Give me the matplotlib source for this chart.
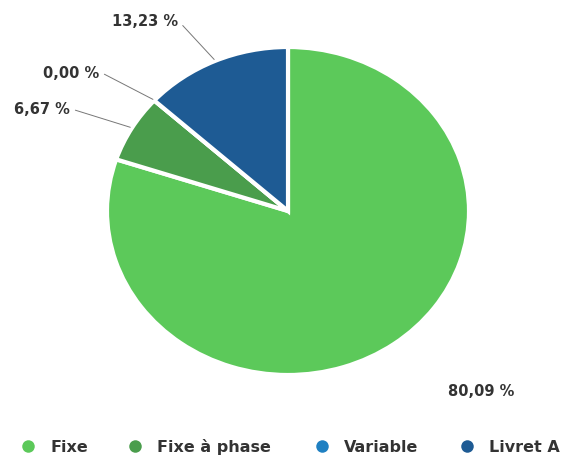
import numpy as np
import matplotlib
matplotlib.use("Agg")
import matplotlib.pyplot as plt

plt.rcParams["font.family"] = ["DejaVu Sans"]

# data
labels = ["Fixe", "Fixe à phase", "Variable", "Livret A"]
values = [80.09, 6.67, 0.00, 13.23]
colors = ["#5cc95a", "#4a9d4c", "#1f80c2", "#1e5b94"]

W, H = 565, 455
fig = plt.figure(figsize=(W / 100, H / 100), dpi=100)

# pie axes (slightly squashed, like the original)
cx, cy, rx, ry = 288, 211, 181, 164
ax = fig.add_axes([(cx - rx) / W, (H - cy - ry) / H, 2 * rx / W, 2 * ry / H])
wedges, _ = ax.pie(values, colors=colors, startangle=90, counterclock=False,
                   wedgeprops=dict(edgecolor="white", linewidth=3))
ax.set_aspect("auto")
ax.set_xlim(-1, 1)
ax.set_ylim(-1, 1)

# label positions (pixels from top-left), flag = draw connector
lab_pos = {"Fixe": ((481, 392), False),
           "Fixe à phase": ((42, 110), True),
           "Variable": ((71, 73), True),
           "Livret A": ((145, 22), True)}

cum = 0.0
tot = sum(values)
for lab, v in zip(labels, values):
    mid = cum + v / 2
    cum += v
    ang = np.deg2rad(90 - mid / tot * 360)
    ex, ey = np.cos(ang) * 1.01, np.sin(ang) * 1.01
    (tx, ty), line = lab_pos[lab]
    txt = ("%.2f %%" % v).replace(".", ",")
    kw = dict(ha="center", va="center", fontsize=10.5, fontweight="bold",
              family="DejaVu Sans", color="#333333")
    if line:
        ax.annotate(txt, xy=(ex, ey), xytext=(tx, H - ty), textcoords="figure pixels",
                    arrowprops=dict(arrowstyle="-", color="#777777", lw=0.7,
                                    relpos=(1.0, 0.6), shrinkA=2, shrinkB=0), **kw)
    else:
        ax.annotate(txt, xy=(ex, ey), xytext=(tx, H - ty), textcoords="figure pixels", **kw)

# legend drawn on an overlay in pixel coordinates
ov = fig.add_axes([0, 0, 1, 1])
ov.set_xlim(0, W)
ov.set_ylim(H, 0)
ov.axis("off")
leg_x = [28, 135, 322, 467]
leg_y = 446
for x, lab, c in zip(leg_x, labels, colors):
    ov.plot([x], [leg_y], marker="o", markersize=9, color=c, markeredgewidth=0)
    ov.text(x + 22, leg_y + 1, lab, ha="left", va="center", fontsize=11.5,
            family="DejaVu Sans", fontweight="bold", color="#333333")

fig.savefig("out.png", dpi=100)
